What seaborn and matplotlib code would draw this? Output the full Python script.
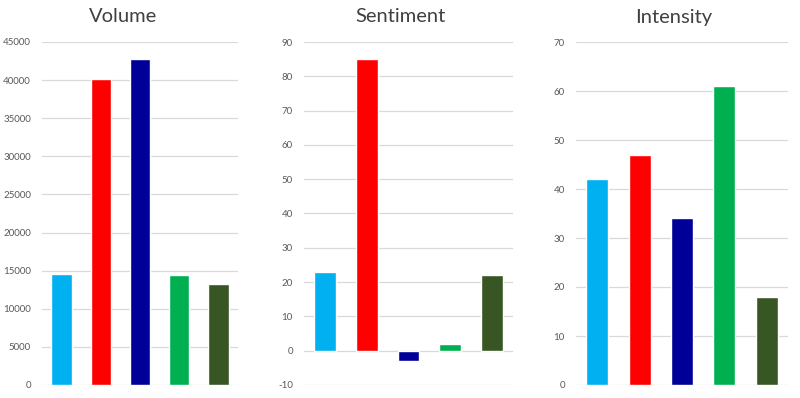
import matplotlib
matplotlib.use("Agg")
import matplotlib.pyplot as plt
import seaborn as sns
import pandas as pd

categories = ["A", "B", "C", "D", "E"]
colors = ["#00B0F0", "#FF0000", "#000099", "#00B050", "#375623"]
volume = [14500, 40200, 42800, 14400, 13300]
sentiment = [23, 85, -3, 2, 22]
intensity = [42, 47, 34, 61, 18]

titles = ["Volume", "Sentiment", "Intensity"]
series = [volume, sentiment, intensity]
ylims = [(0, 45000), (-10, 90), (0, 70)]
ysteps = [5000, 10, 10]

sns.set_style("white")
plt.rcParams["font.family"] = ["Lato", "DejaVu Sans"]

W, H = 800, 398
fig = plt.figure(figsize=(W / 100, H / 100), dpi=100)

# pixel boxes: (left, right), top=42, bottom=385
xboxes = [(42, 238), (304, 513), (576, 788)]
title_x = [123, 400, 674]
top_px, bot_px = 42, 385

for i in range(3):
    l, r = xboxes[i]
    ax = fig.add_axes([l / W, 1 - bot_px / H, (r - l) / W, (bot_px - top_px) / H])
    df = pd.DataFrame({"cat": categories, "val": series[i]})
    sns.barplot(data=df, x="cat", y="val", hue="cat", palette=colors,
                legend=False, width=0.52, ax=ax, saturation=1)
    lo, hi = ylims[i]
    ax.set_ylim(lo, hi)
    ax.set_xlim(-0.5, 4.5)
    ticks = list(range(lo, hi + 1, ysteps[i]))
    ax.set_yticks(ticks)
    ax.set_yticklabels([str(t) for t in ticks], fontsize=7, color="#595959")
    ax.yaxis.grid(True, color="#D9D9D9", linewidth=0.9)
    ax.set_axisbelow(True)
    ax.set_xticks([])
    ax.set_xlabel("")
    ax.set_ylabel("")
    ax.tick_params(axis="y", length=0, pad=8)
    for s in ax.spines.values():
        s.set_visible(False)
    fig.text(title_x[i] / W, 1 - 17 / H, titles[i], ha="center", va="center",
             fontsize=14.5, color="#404040")

fig.savefig("out.png", dpi=100)
